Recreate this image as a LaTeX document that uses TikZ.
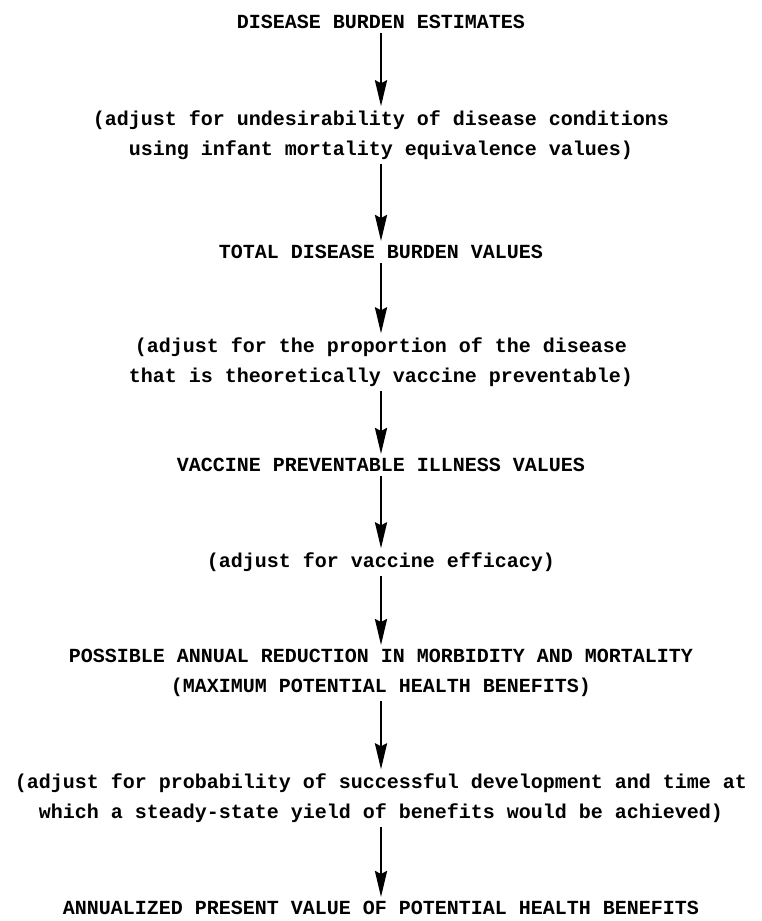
\documentclass[tikz,border=0pt]{standalone}
\usepackage{fontspec}
\setmonofont{Liberation Mono}
\usetikzlibrary{arrows.meta, positioning}

\tikzset{
  stage/.style={font=\ttfamily\bfseries\fontsize{20}{30}\selectfont, align=center, inner sep=4pt},
  flow/.style={-{Stealth[length=26pt, width=12pt, inset=3pt]}, line width=2.7pt},
}

\begin{document}
\begin{tikzpicture}[x=1pt, y=-1pt]
  \useasboundingbox (0,0) rectangle (761,921);

  % stages of the calculation
  \node[stage] (est) at (381,22) {DISEASE BURDEN ESTIMATES};
  \node[stage] (adjA) at (381,135) {(adjust for undesirability of disease conditions\\
    using infant mortality equivalence values)};
  \node[stage] (total) at (381,252) {TOTAL DISEASE BURDEN VALUES};
  \node[stage] (adjB) at (381,362) {(adjust for the proportion of the disease\\
    that is theoretically vaccine preventable)};
  \node[stage] (prev) at (381,465) {VACCINE PREVENTABLE ILLNESS VALUES};
  \node[stage] (adjC) at (381,562) {(adjust for vaccine efficacy)};
  \node[stage] (reduc) at (381,673) {POSSIBLE ANNUAL REDUCTION IN MORBIDITY AND MORTALITY\\
    (MAXIMUM POTENTIAL HEALTH BENEFITS)};
  \node[stage] (adjD) at (381,798) {(adjust for probability of successful development and time at\\
    which a steady-state yield of benefits would be achieved)};
  \node[stage] (annual) at (381,908) {ANNUALIZED PRESENT VALUE OF POTENTIAL HEALTH BENEFITS};

  % arrows
  \draw[flow] (est) -- (adjA);
  \draw[flow] (adjA) -- (total);
  \draw[flow] (total) -- (adjB);
  \draw[flow] (adjB) -- (prev);
  \draw[flow] (prev) -- (adjC);
  \draw[flow] (adjC) -- (reduc);
  \draw[flow] (reduc) -- (adjD);
  \draw[flow] (adjD) -- (annual);
\end{tikzpicture}
\end{document}
